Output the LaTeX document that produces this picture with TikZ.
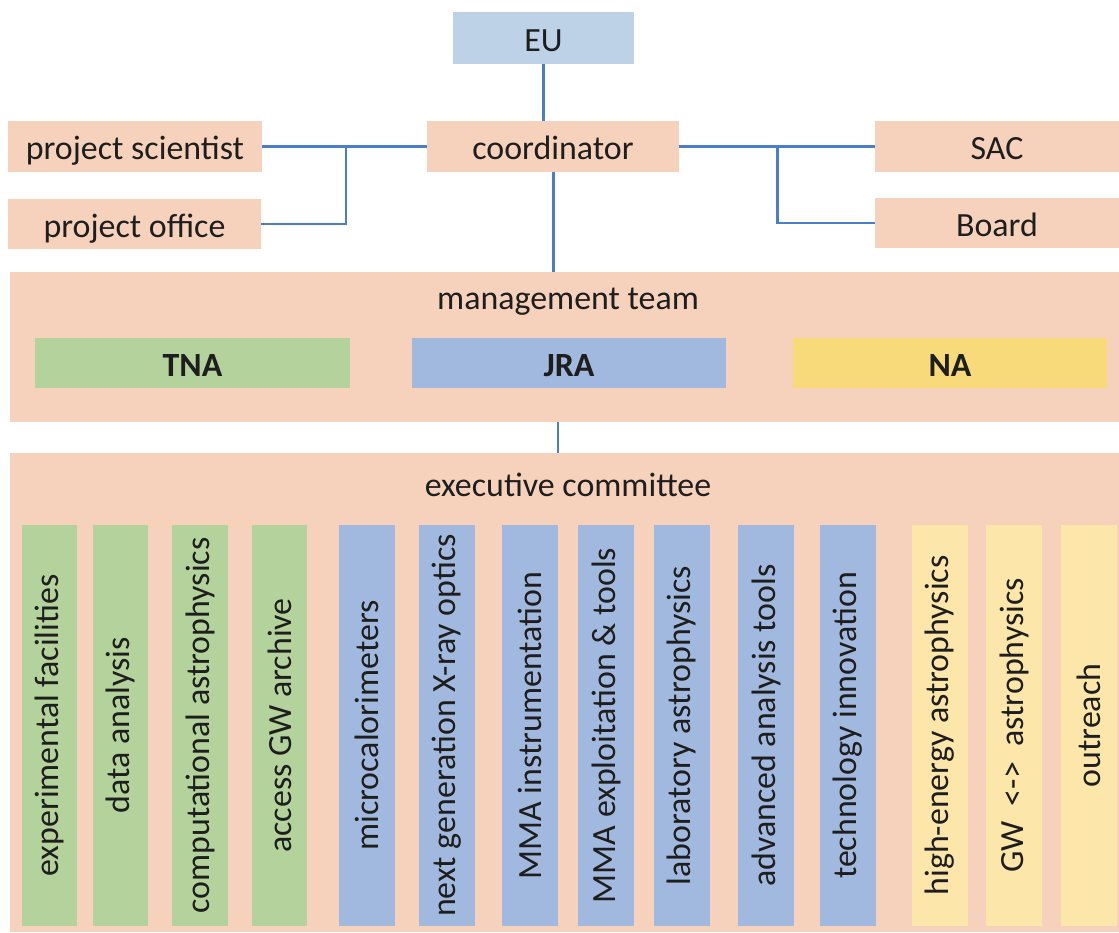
\documentclass[tikz,border=0pt]{standalone}
\usepackage{fontspec}
\setmainfont{Carlito}
\usetikzlibrary{positioning}

\definecolor{peach}{HTML}{F6D1BB}
\definecolor{eublue}{HTML}{BDD1E7}
\definecolor{tnagreen}{HTML}{B4D39C}
\definecolor{jrablue}{HTML}{A2B9DF}
\definecolor{nagold}{HTML}{F9DA7A}
\definecolor{nalight}{HTML}{FCE6AA}
\definecolor{linkblue}{HTML}{4A7EC8}
\definecolor{txt}{HTML}{1E1E1E}

\tikzset{
  box/.style={fill=#1, inner sep=0pt, text=txt, text height=0.6cm, text depth=0.06cm},
  link/.style={draw=linkblue, line width=1.7pt},
  bar/.style={fill=#1, inner sep=0pt, text=txt, rotate=90, minimum width=8.02cm, minimum height=1.12cm}
}

\begin{document}
\begin{tikzpicture}[x=0.02cm, y=-0.02cm,
    font=\fontsize{19.3}{23}\selectfont]

    \useasboundingbox (0,0) rectangle (1119,933);

    % 1. Top row
    \node[box=eublue, minimum width=3.62cm, minimum height=1.04cm] (eu) at (543.5,38) {EU};
    \node[box=peach, minimum width=5.04cm, minimum height=1.02cm] (coord) at (553,146.5) {coordinator};
    \node[box=peach, minimum width=5.08cm, minimum height=1.02cm] (psci) at (135,146.5) {project scientist};
    \node[box=peach, minimum width=5.06cm, minimum height=1.0cm] (poff) at (134.5,224) {project office};
    \node[box=peach, minimum width=4.88cm, minimum height=1.02cm] (sac) at (997,146.5) {SAC};
    \node[box=peach, minimum width=4.88cm, minimum height=1.0cm] (board) at (997,223) {Board};

    % 2. Management team
    \node[box=peach, minimum width=22.18cm, minimum height=3.0cm] (mgmt) at (564.5,347) {};
    \node[text=txt, anchor=base] (mgmtlbl) at (568,309) {management team};
    \node[box=tnagreen, minimum width=6.3cm, minimum height=1.0cm, font=\fontsize{19.3}{23}\selectfont\bfseries] (tna) at (192.5,363) {TNA};
    \node[box=jrablue, minimum width=6.3cm, minimum height=1.0cm, font=\fontsize{19.3}{23}\selectfont\bfseries] (jra) at (569,363) {JRA};
    \node[box=nagold, minimum width=6.3cm, minimum height=1.0cm, font=\fontsize{19.3}{23}\selectfont\bfseries] (na) at (950,363) {NA};

    % 3. Executive committee
    \node[box=peach, minimum width=22.18cm, minimum height=9.58cm] (exec) at (564.5,692.5) {};
    \node[text=txt, anchor=base] (execlbl) at (568,496) {executive committee};

    \foreach \x/\lbl/\col [count=\i] in {
        49.5/experimental facilities/tnagreen,
        120.5/data analysis/tnagreen,
        200/computational astrophysics/tnagreen,
        279.5/access GW archive/tnagreen,
        367/microcalorimeters/jrablue,
        447/next generation X-ray optics/jrablue,
        530/MMA instrumentation/jrablue,
        606/MMA exploitation \& tools/jrablue,
        681.5/laboratory astrophysics/jrablue,
        766/advanced analysis tools/jrablue,
        848/technology innovation/jrablue,
        940/high-energy astrophysics/nalight,
        1014/GW\ \ <->\ \ astrophysics/nalight,
        1088.5/outreach/nalight} {
        \node[bar=\col] (bar\i) at (\x,725.5) {\lbl};
    }

    % 4. Connectors
    \coordinate (ljoin) at (346,146.5);
    \coordinate (rjoin) at (777,146.5);
    \draw[link] (eu.south) -- (eu.south |- coord.north);
    \draw[link] (psci.east) -- (ljoin) -- (coord.west);
    \draw[link] (ljoin) |- (poff.east);
    \draw[link] (coord.east) -- (rjoin) -- (sac.west);
    \draw[link] (rjoin) |- (board.west);
    \draw[link] (coord.south) -- (coord.south |- mgmt.north);
    \draw[link] ([xshift=0.1cm]coord.south |- mgmt.south) -- ([xshift=0.1cm]coord.south |- exec.north);

\end{tikzpicture}
\end{document}
